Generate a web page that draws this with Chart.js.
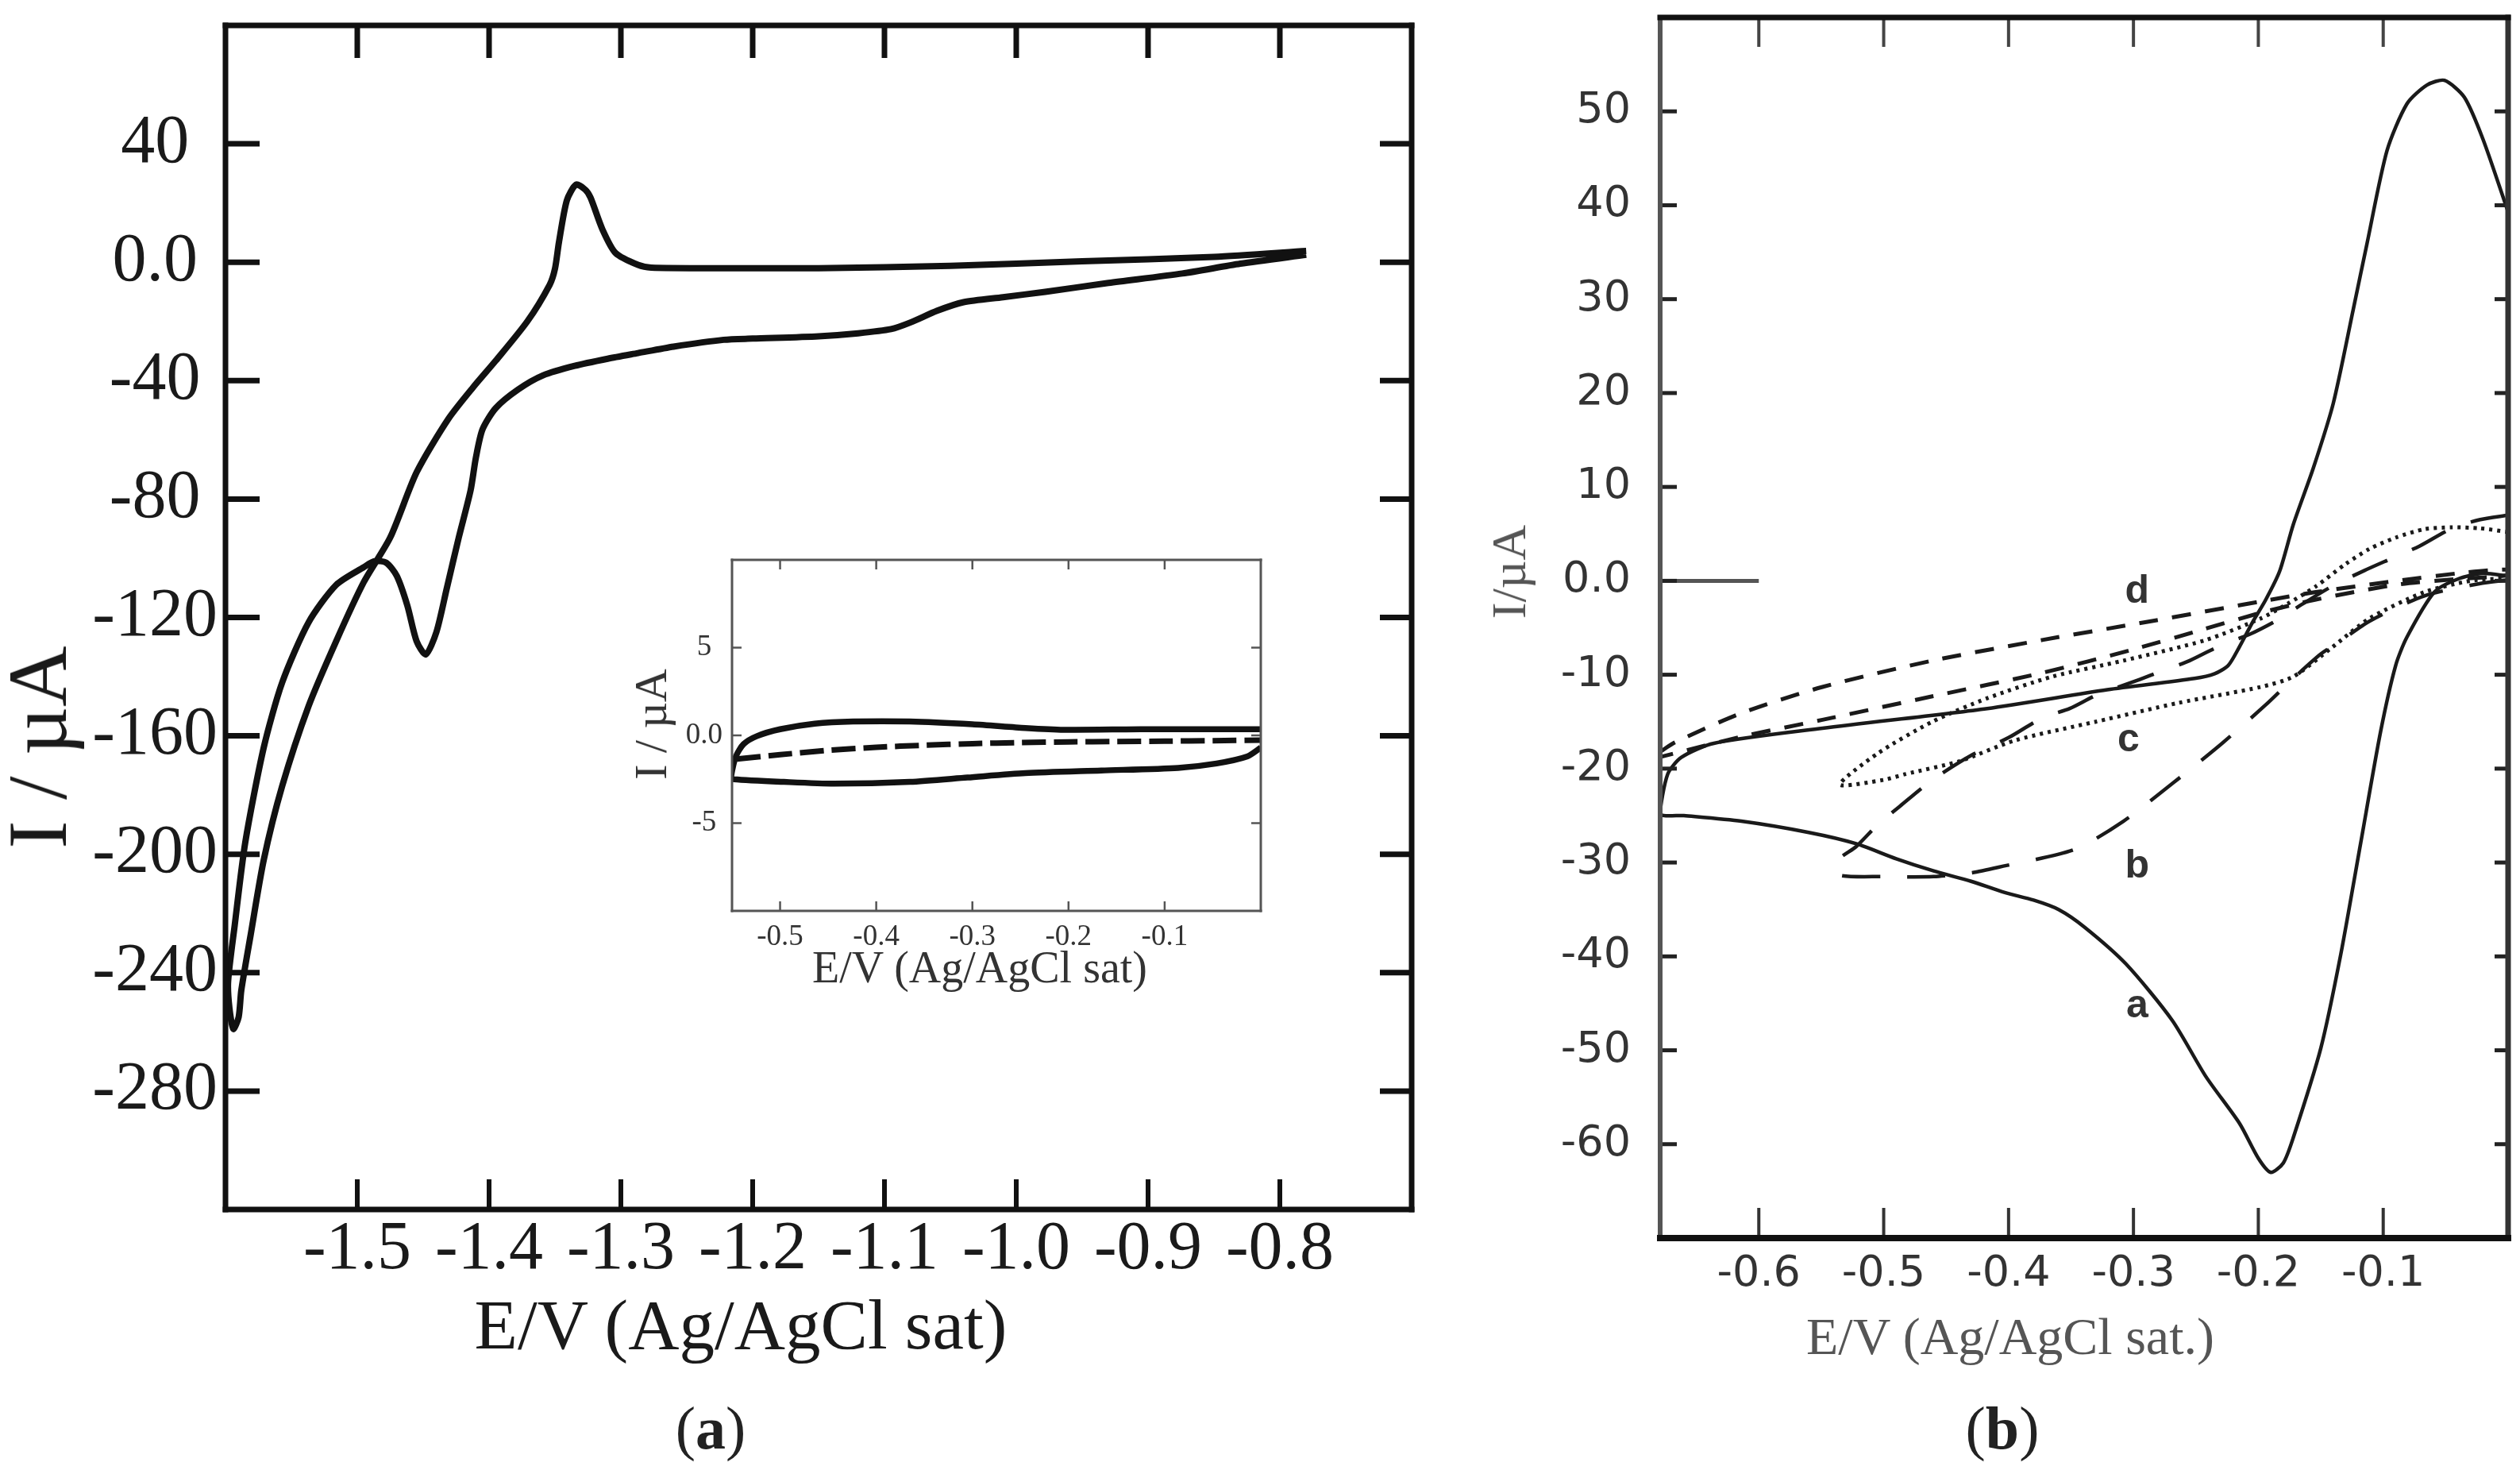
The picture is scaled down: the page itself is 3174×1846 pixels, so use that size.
<!DOCTYPE html>
<html>

<head>
    <meta charset="utf-8" />
    <title>Voltamogramas</title>
    <style>
        html, body { margin: 0; padding: 0; background: #fff; }
        #page { position: relative; width: 3174px; height: 1846px; overflow: hidden; background: #fff; }
        canvas { position: absolute; }
        .lbl { position: absolute; white-space: nowrap; line-height: 1; transform: translate(-50%, -50%); }
        .rot { transform: translate(-50%, -50%) rotate(-90deg); }
        .serif { font-family: 'Liberation Serif', serif; }
    </style>
</head>

<body>
    <div id="page">
        <canvas id="chartA" width="1850" height="1846" style="left:0;top:0;width:1850px;height:1846px"></canvas>
        <canvas id="chartIn" width="950" height="600" style="left:700px;top:650px;width:950px;height:600px"></canvas>
        <canvas id="chartB" width="1324" height="1846" style="left:1850px;top:0;width:1324px;height:1846px"></canvas>

        <!-- titulos panel (a) -->
        <div class="lbl rot serif" style="left:48px;top:941px;font-size:106px;color:#1a1a1a">I / µA</div>
        <div class="lbl serif" style="left:933px;top:1668px;font-size:89px;color:#1a1a1a">E/V (Ag/AgCl sat)</div>
        <div class="lbl rot serif" style="left:820px;top:912px;font-size:58px;color:#333">I / µA</div>
        <div class="lbl serif" style="left:1234px;top:1218px;font-size:56px;color:#333">E/V (Ag/AgCl sat)</div>
        <div class="lbl serif" style="left:895px;top:1798px;font-size:76px;color:#222">(<b>a</b>)</div>

        <!-- titulos panel (b) -->
        <div class="lbl rot serif" style="left:1900px;top:720px;font-size:62px;color:#555">I/µA</div>
        <div class="lbl serif" style="left:2532px;top:1683px;font-size:66px;color:#555">E/V (Ag/AgCl sat.)</div>
        <div class="lbl serif" style="left:2522px;top:1798px;font-size:76px;color:#222">(<b>b</b>)</div>
    </div>

    <script src="https://cdn.jsdelivr.net/npm/chart.js"></script>
    <script type="text/javascript">

        // ---------- Panel (a): voltamograma principal ----------
        const cvA_E = [-0.78, -0.83, -0.874, -0.93, -0.978, -1.01, -1.04, -1.06, -1.08, -1.095, -1.12, -1.15, -1.2, -1.222,
            -1.26, -1.287, -1.31, -1.335, -1.359, -1.378, -1.395, -1.405, -1.41, -1.414, -1.423, -1.432, -1.44, -1.448,
            -1.455, -1.462, -1.47, -1.478, -1.487, -1.495, -1.516, -1.537, -1.557, -1.571, -1.585, -1.593, -1.598,
            -1.597, -1.594, -1.59,
            -1.588, -1.581, -1.571, -1.557, -1.537, -1.516, -1.495, -1.475, -1.455, -1.431, -1.412, -1.395, -1.371,
            -1.354, -1.35, -1.347, -1.341, -1.334, -1.327, -1.323, -1.314, -1.304, -1.287, -1.277, -1.222, -1.15,
            -1.05, -0.95, -0.85, -0.78];
        const cvA_I = [2.5, -0.5, -3.8, -7, -10, -11.8, -13.5, -16.4, -20.3, -22.6, -24, -25, -25.8, -26.2,
            -28.5, -30.7, -32.6, -35, -38.2, -43, -49.3, -56.5, -66, -77, -93, -110, -125, -132.5,
            -128, -116, -106, -101.5, -101, -103, -109, -121.7, -142, -164, -196, -224, -243,
            -252, -259, -255,
            -246, -227.5, -202, -177, -150, -128, -108, -93, -71, -53, -42.2, -33.3, -20,
            -7.6, -2.2, 6.7, 20.9, 26.2, 24.5, 21.8, 11.1, 3.1, -0.9, -1.8, -2, -2,
            -1.2, 0.3, 1.8, 3.8];
        const xTicksA = [-1.5, -1.4, -1.3, -1.2, -1.1, -1.0, -0.9, -0.8];
        const xLabelsA = ['-1.5', '-1.4', '-1.3', '-1.2', '-1.1', '-1.0', '-0.9', '-0.8'];
        const yTicksA = [-280, -240, -200, -160, -120, -80, -40, 0, 40];
        const yLabelsA = ['-280', '-240', '-200', '-160', '-120', '-80', '-40', '0.0', '40'];

        // ---------- Inserto del panel (a) ----------
        const insSolidE = [0.0, -0.014, -0.046, -0.086, -0.166, -0.245, -0.305, -0.365, -0.444, -0.496, -0.548, -0.551,
            -0.546, -0.538, -0.524, -0.5, -0.464, -0.424, -0.365, -0.3, -0.245, -0.205, -0.125, 0.0];
        const insSolidI = [-0.7, -1.2, -1.6, -1.85, -2.0, -2.15, -2.4, -2.65, -2.75, -2.65, -2.5, -2.4,
            -1.2, -0.5, -0.04, 0.35, 0.67, 0.79, 0.79, 0.63, 0.42, 0.32, 0.35, 0.35];
        const insDashE = [-0.545, -0.5, -0.45, -0.4, -0.35, -0.3, -0.25, -0.2, -0.15, -0.1, -0.05, 0.0];
        const insDashI = [-1.35, -1.1, -0.85, -0.68, -0.56, -0.47, -0.41, -0.37, -0.35, -0.33, -0.3, -0.27];
        const xTicksIn = [-0.5, -0.4, -0.3, -0.2, -0.1];
        const xLabelsIn = ['-0.5', '-0.4', '-0.3', '-0.2', '-0.1'];
        const yTicksIn = [-5, 0, 5];
        const yLabelsIn = ['-5', '0.0', '5'];

        // ---------- Panel (b): curvas a, b, c, d ----------
        const bA_E = [0.0, -0.02, -0.035, -0.051, -0.065, -0.081, -0.097, -0.113, -0.124, -0.14, -0.156, -0.172, -0.183,
            -0.194, -0.205, -0.215, -0.224, -0.235, -0.251, -0.321, -0.417, -0.549, -0.636, -0.662, -0.673, -0.679,
            -0.66, -0.614, -0.56, -0.522, -0.49, -0.46, -0.43, -0.403, -0.38, -0.36, -0.339, -0.306, -0.269, -0.242, -0.215,
            -0.2, -0.19, -0.18, -0.172, -0.15, -0.134, -0.118, -0.102, -0.09, -0.081, -0.059, -0.04, -0.02, 0.0];
        const bA_I = [39.3, 47, 51.5, 53.3, 52.8, 50.8, 45.8, 35.9, 28.9, 18.9, 12, 6, 1,
            -2, -4.5, -7, -9, -9.9, -10.4, -11.6, -13.6, -15.7, -17.3, -18.8, -20.6, -24.8,
            -25, -25.6, -26.8, -28, -29.6, -30.9, -32, -33.2, -34, -35, -36.9, -40.8, -46.8, -52.8, -57.8,
            -61.5, -63, -62, -59.3, -49.8, -39.8, -27.9, -16, -9, -6, -1.2, 0.2, 0.8, 0.5];
        const bB_E = [0.0, -0.023, -0.045, -0.071, -0.093, -0.115, -0.14, -0.165, -0.185, -0.207, -0.229, -0.255, -0.277,
            -0.295, -0.33, -0.351, -0.373, -0.4, -0.43, -0.461, -0.487, -0.505, -0.522, -0.537, -0.537,
            -0.5, -0.46, -0.43, -0.408, -0.347, -0.308, -0.268, -0.229, -0.194, -0.172, -0.15, -0.133, -0.111,
            -0.067, -0.023, 0.0];
        const bB_I = [7.0, 6.5, 5.6, 3.7, 2.4, 1.1, -0.5, -2.5, -4.2, -5.7, -6.8, -8.5, -9.6,
            -10.5, -12.2, -13.6, -14.6, -16.7, -18.6, -21.2, -24, -26, -28.3, -29.8, -31.3,
            -31.5, -31.5, -31.1, -30.5, -28.6, -25.6, -21.5, -17.3, -13.2, -10.4, -7.8, -6.3, -4.3,
            -1.6, -0.3, 0.1];
        const bC_E = [0.0, -0.023, -0.045, -0.067, -0.09, -0.111, -0.13, -0.154, -0.176, -0.198, -0.242, -0.308, -0.365,
            -0.417, -0.461, -0.505, -0.535, -0.5, -0.483, -0.439, -0.395, -0.33, -0.264, -0.198, -0.172, -0.141,
            -0.111, -0.067, -0.03, 0.0];
        const bC_I = [5.2, 5.6, 5.7, 5.5, 4.6, 3.4, 1.8, -0.6, -2.4, -4, -6.3, -8.5, -10.2,
            -12.5, -15, -18.4, -21.7, -21.2, -20.6, -19.2, -17, -15, -13, -11.3, -10.2, -7.1,
            -4, -1.2, 0, 0.3];
        const bD_E = [-0.68, -0.667, -0.614, -0.549, -0.461, -0.373, -0.286, -0.198, -0.154, -0.089, -0.04, 0.0,
            0.0, -0.04, -0.089, -0.154, -0.198, -0.25, -0.3, -0.373, -0.461, -0.549, -0.614, -0.68];
        const bD_I = [-18.3, -17.2, -14.1, -11.3, -8.5, -6.3, -4.3, -2.2, -1.2, 0, 0.8, 1.2,
            0.6, 0.2, -0.4, -2, -3.4, -5.4, -7.3, -9.8, -12.3, -14.8, -16.6, -18.8];
        const zeroMarkE = [-0.68, -0.6];
        const zeroMarkI = [0, 0];
        const tagText = ['a', 'b', 'c', 'd'];
        const tagE = [-0.297, -0.297, -0.304, -0.297];
        const tagI = [-45.3, -30.4, -17, -1.2];
        const xTicksB = [-0.6, -0.5, -0.4, -0.3, -0.2, -0.1];
        const xLabelsB = ['-0.6', '-0.5', '-0.4', '-0.3', '-0.2', '-0.1'];
        const yTicksB = [-60, -50, -40, -30, -20, -10, 0, 10, 20, 30, 40, 50];
        const yLabelsB = ['-60', '-50', '-40', '-30', '-20', '-10', '0.0', '10', '20', '30', '40', '50'];

        const pts = (xs, ys) => xs.map((x, i) => ({ x: x, y: ys[i] }));

        // Marco con marcas hacia adentro, en las posiciones de los ticks de cada escala
        const frameTicks = {
            id: 'frameTicks',
            afterDatasetsDraw(chart, args, opts) {
                const { ctx, chartArea: a, scales } = chart;
                const s = opts.sides;
                const xs = scales.x.ticks.map(t => scales.x.getPixelForValue(t.value));
                const ys = scales.y.ticks.map(t => scales.y.getPixelForValue(t.value));
                const line = (x1, y1, x2, y2, w, c, cap) => {
                    ctx.beginPath();
                    ctx.lineWidth = w;
                    ctx.strokeStyle = c;
                    ctx.lineCap = cap || 'butt';
                    ctx.moveTo(x1, y1);
                    ctx.lineTo(x2, y2);
                    ctx.stroke();
                };
                ctx.save();
                ys.forEach(p => {
                    line(a.left, p, a.left + s.left.len, p, s.left.tw, s.left.tc);
                    line(a.right, p, a.right - s.right.len, p, s.right.tw, s.right.tc);
                });
                xs.forEach(p => {
                    line(p, a.bottom, p, a.bottom - s.bottom.len, s.bottom.tw, s.bottom.tc);
                    line(p, a.top, p, a.top + s.top.len, s.top.tw, s.top.tc);
                });
                line(a.left, a.top, a.left, a.bottom, s.left.w, s.left.c, 'square');
                line(a.right, a.top, a.right, a.bottom, s.right.w, s.right.c, 'square');
                line(a.left, a.top, a.right, a.top, s.top.w, s.top.c, 'square');
                line(a.left, a.bottom, a.right, a.bottom, s.bottom.w, s.bottom.c, 'square');
                ctx.restore();
            }
        };

        // Letras de cada curva del panel (b)
        const curveTags = {
            id: 'curveTags',
            afterDatasetsDraw(chart, args, opts) {
                if (!opts.show) return;
                const { ctx, scales } = chart;
                ctx.save();
                ctx.font = 'bold 50px "Liberation Sans", Arial, sans-serif';
                ctx.fillStyle = '#333';
                ctx.textAlign = 'center';
                ctx.textBaseline = 'middle';
                tagText.forEach((t, i) => {
                    ctx.fillText(t, scales.x.getPixelForValue(tagE[i]), scales.y.getPixelForValue(tagI[i]));
                });
                ctx.restore();
            }
        };

        function linea(data, color, width, dash) {
            return {
                data: data,
                showLine: true,
                borderColor: color,
                borderWidth: width,
                borderDash: dash || [],
                pointRadius: 0,
                tension: 0.25,
                fill: false
            };
        }

        function escala(min, max, tickVals, tickLabels, font, color, pad, size, vertical, cross) {
            const sc = {
                type: 'linear',
                min: min,
                max: max,
                grid: { display: false },
                border: { display: false },
                afterBuildTicks: s => { s.ticks = tickVals.map(v => ({ value: v })); },
                ticks: {
                    autoSkip: false,
                    maxRotation: 0,
                    padding: pad,
                    color: color,
                    font: font,
                    callback: (v, i) => tickLabels[i]
                }
            };
            // el tamaño de cada eje se fija para que el area del grafico quede donde debe
            if (vertical) {
                sc.afterFit = s => { s.width = size; s.paddingTop = 0; s.paddingBottom = 0; };
                if (cross) sc.ticks.crossAlign = cross;
            } else {
                sc.afterFit = s => { s.height = size; s.paddingLeft = 0; s.paddingRight = 0; };
            }
            return sc;
        }

        function opciones(padding, xs, ys, sides, tags) {
            return {
                responsive: false,
                animation: false,
                devicePixelRatio: 1,
                layout: { padding: padding },
                plugins: {
                    legend: { display: false },
                    tooltip: { enabled: false },
                    frameTicks: { sides: sides },
                    curveTags: { show: !!tags }
                },
                scales: { x: xs, y: ys }
            };
        }

        const serifA = { family: "'Liberation Serif', serif", size: 86, lineHeight: 1 };
        const serifIn = { family: "'Liberation Serif', serif", size: 37, lineHeight: 1 };
        const sansB = { family: "'DejaVu Sans', sans-serif", size: 54, lineHeight: 1 };

        // Panel (a)
        new Chart(document.getElementById('chartA'), {
            type: 'scatter',
            data: { datasets: [linea(pts(cvA_E, cvA_I), '#111', 8)] },
            options: opciones(
                { left: 0, top: 32, right: 72, bottom: 203 },
                escala(-1.6, -0.7, xTicksA, xLabelsA, serifA, '#1a1a1a', 0, 120, false),
                escala(-320, 80, yTicksA, yLabelsA, serifA, '#1a1a1a', 2, 284, true, 'center'),
                {
                    left: { w: 7, c: '#111', len: 43, tw: 7, tc: '#111' },
                    right: { w: 7, c: '#111', len: 40, tw: 7, tc: '#111' },
                    top: { w: 7, c: '#111', len: 41, tw: 7, tc: '#111' },
                    bottom: { w: 7, c: '#111', len: 38, tw: 6, tc: '#111' }
                }, false),
            plugins: [frameTicks, curveTags]
        });

        // Inserto
        new Chart(document.getElementById('chartIn'), {
            type: 'scatter',
            data: {
                datasets: [
                    linea(pts(insSolidE, insSolidI), '#111', 7.5),
                    linea(pts(insDashE, insDashI), '#111', 7, [30, 10])
                ]
            },
            options: opciones(
                { left: 0, top: 55, right: 62, bottom: 43 },
                escala(-0.55, 0.0, xTicksIn, xLabelsIn, serifIn, '#333', 7, 60, false),
                escala(-10, 10, yTicksIn, yLabelsIn, serifIn, '#333', 4, 222, true, 'center'),
                {
                    left: { w: 3, c: '#555', len: 12, tw: 2.5, tc: '#555' },
                    right: { w: 3, c: '#555', len: 12, tw: 2.5, tc: '#555' },
                    top: { w: 3, c: '#555', len: 12, tw: 2.5, tc: '#555' },
                    bottom: { w: 3, c: '#555', len: 12, tw: 2.5, tc: '#555' }
                }, false),
            plugins: [frameTicks, curveTags]
        });

        // Panel (b)
        new Chart(document.getElementById('chartB'), {
            type: 'scatter',
            data: {
                datasets: [
                    linea(pts(bA_E, bA_I), '#1a1a1a', 4.5),
                    linea(pts(bB_E, bB_I), '#1a1a1a', 4.5, [48, 34]),
                    linea(pts(bC_E, bC_I), '#1a1a1a', 5, [4, 6]),
                    linea(pts(bD_E, bD_I), '#1a1a1a', 5, [24, 18]),
                    linea(pts(zeroMarkE, zeroMarkI), '#555', 5)
                ]
            },
            options: opciones(
                { left: 0, top: 22, right: 15, bottom: 187 },
                escala(-0.679, 0.0, xTicksB, xLabelsB, sansB, '#333', 11, 100, false),
                escala(-70, 60, yTicksB, yLabelsB, sansB, '#333', 29, 241, true),
                {
                    left: { w: 6, c: '#555', len: 21, tw: 5, tc: '#222' },
                    right: { w: 7, c: '#333', len: 17, tw: 5, tc: '#222' },
                    top: { w: 7, c: '#111', len: 37, tw: 4, tc: '#444' },
                    bottom: { w: 8, c: '#111', len: 38, tw: 4, tc: '#333' }
                }, true),
            plugins: [frameTicks, curveTags]
        });

    </script>

</body>

</html>
